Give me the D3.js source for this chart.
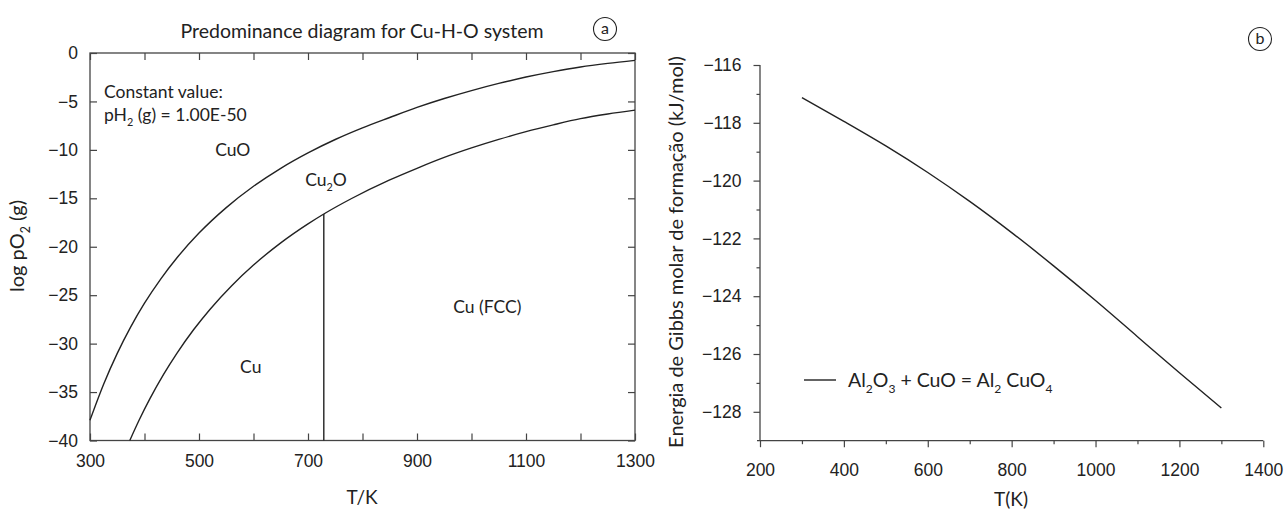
<!DOCTYPE html>
<html>
<head>
<meta charset="utf-8">
<script src="https://cdn.jsdelivr.net/npm/d3@7"></script>
<style>
  html, body { margin: 0; padding: 0; background: #fff; }
  svg { display: block; font-family: Lato, "Open Sans", sans-serif; }
  .tick text { font-size: 17.5px; fill: #222; }
</style>
</head>
<body>
<svg id="chart" width="1287" height="512"></svg>
<script>
// ---------------- DATA ----------------
// Panel a: predominance diagram Cu-H-O (log pO2 vs T)
const upperT      = [300, 325, 350, 375, 400, 430, 460, 500, 550, 600, 650, 700, 750, 800, 850, 900, 950, 1000, 1050, 1100, 1150, 1200, 1250, 1300];
const upperLogPO2 = [-37.9, -34.19, -31.01, -28.25, -25.83, -23.31, -21.11, -18.59, -15.96, -13.76, -11.9, -10.31, -8.93, -7.73, -6.66, -5.62, -4.7, -3.88, -3.14, -2.48, -1.92, -1.44, -1.07, -0.76];
const lowerT      = [373, 390, 410, 435, 460, 490, 520, 560, 600, 650, 700, 729, 780, 850, 900, 950, 1000, 1050, 1100, 1150, 1200, 1250, 1300];
const lowerLogPO2 = [-40, -37.91, -35.68, -33.18, -30.95, -28.57, -26.47, -24.02, -21.89, -19.6, -17.64, -16.62, -15.02, -13.1, -11.9, -10.78, -9.8, -8.92, -8.12, -7.42, -6.78, -6.3, -5.9];
const transitionT = [729, 729];
const transitionLogPO2 = [-40, -16.62];
const xTicksA = [300, 400, 500, 600, 700, 800, 900, 1000, 1100, 1200, 1300];
const xLabelsA = [300, 500, 700, 900, 1100, 1300];
const yTicksA = [0, -5, -10, -15, -20, -25, -30, -35, -40];
const regionNames = ["CuO", "Cu2O", "Cu (FCC)", "Cu"];
const regionT     = [562, 733, 1029, 595];
const regionLog   = [-10.0, -13.1, -26.2, -32.4];

// Panel b: Gibbs energy of formation Al2O3 + CuO = Al2CuO4
const gibbsT = [300, 400, 500, 600, 700, 800, 900, 1000, 1100, 1200, 1300];
const gibbsG = [-117.13, -117.95, -118.8, -119.72, -120.72, -121.8, -122.95, -124.15, -125.4, -126.65, -127.87];
const xTicksB = [200, 400, 600, 800, 1000, 1200, 1400];
const xMinorB = [300, 500, 700, 900, 1100, 1300];
const yTicksB = [-116, -118, -120, -122, -124, -126, -128];
const yMinorB = [-117, -119, -121, -123, -125, -127];

// ---------------- DRAW ----------------
const svg = d3.select("#chart");
const ink = "#222";
const axisInk = "#444";
const minus = v => (v < 0 ? "\u2212" + Math.abs(v) : String(v));

// rich text with subscripts: parts = [[text, isSub], ...]
function richText(g, x, y, parts, size, anchor, transform) {
  const t = g.append("text").attr("x", x).attr("y", y)
    .attr("font-size", size).attr("fill", ink).attr("text-anchor", anchor || "start");
  if (transform) t.attr("transform", transform);
  let prevSub = false;
  const subSize = size * 0.62;
  parts.forEach(([s, sub]) => {
    const ts = t.append("tspan").text(s);
    if (sub) {
      ts.attr("font-size", subSize);
      if (!prevSub) ts.attr("dy", size * 0.3);
    } else if (prevSub) {
      ts.attr("dy", -size * 0.3);
    }
    prevSub = sub;
  });
  return t;
}

function styleAxis(g) {
  g.select(".domain").remove();
  g.selectAll(".tick line").attr("stroke", axisInk).attr("stroke-width", 1.2);
}

// ===== Panel a =====
const xA = d3.scaleLinear().domain([300, 1300]).range([90, 635]);
const yA = d3.scaleLinear().domain([-40, 0]).range([440.5, 53]);
const gA = svg.append("g");

gA.append("rect")
  .attr("x", xA(300)).attr("y", yA(0))
  .attr("width", xA(1300) - xA(300)).attr("height", yA(-40) - yA(0))
  .attr("fill", "none").attr("stroke", axisInk).attr("stroke-width", 1.3);

gA.append("g").attr("transform", `translate(0,${yA(-40)})`)
  .call(d3.axisBottom(xA).tickValues(xTicksA).tickSize(-7).tickPadding(14)
    .tickFormat(d => xLabelsA.includes(d) ? d : ""))
  .call(styleAxis);
gA.append("g").attr("transform", `translate(0,${yA(0)})`)
  .call(d3.axisTop(xA).tickValues(xTicksA).tickSize(-7).tickFormat(""))
  .call(styleAxis);
gA.append("g").attr("transform", `translate(${xA(300)},0)`)
  .call(d3.axisLeft(yA).tickValues(yTicksA).tickSize(-7).tickPadding(12).tickFormat(minus))
  .call(styleAxis);
gA.append("g").attr("transform", `translate(${xA(1300)},0)`)
  .call(d3.axisRight(yA).tickValues(yTicksA).tickSize(-7).tickFormat(""))
  .call(styleAxis);

const lineA = d3.line().x(d => xA(d[0])).y(d => yA(d[1])).curve(d3.curveMonotoneX);
gA.append("path").datum(d3.zip(upperT, upperLogPO2)).attr("d", lineA)
  .attr("fill", "none").attr("stroke", ink).attr("stroke-width", 1.4);
gA.append("path").datum(d3.zip(lowerT, lowerLogPO2)).attr("d", lineA)
  .attr("fill", "none").attr("stroke", ink).attr("stroke-width", 1.4);
gA.append("path").datum(d3.zip(transitionT, transitionLogPO2))
  .attr("d", d3.line().x(d => xA(d[0])).y(d => yA(d[1])))
  .attr("fill", "none").attr("stroke", ink).attr("stroke-width", 1.4);

regionNames.forEach((name, i) => {
  const parts = name === "Cu2O" ? [["Cu", false], ["2", true], ["O", false]] : [[name, false]];
  richText(gA, xA(regionT[i]), yA(regionLog[i]) + 6, parts, 17.5, "middle");
});

gA.append("text").attr("x", 104).attr("y", 98).attr("font-size", 17.5).attr("fill", ink).text("Constant value:");
richText(gA, 104, 121, [["pH", false], ["2", true], [" (g) = 1.00E-50", false]], 17.5, "start");

gA.append("text").attr("x", 362).attr("y", 38).attr("text-anchor", "middle")
  .attr("font-size", 19.5).attr("fill", ink).text("Predominance diagram for Cu-H-O system");

gA.append("circle").attr("cx", 605).attr("cy", 29).attr("r", 11.5).attr("fill", "none").attr("stroke", ink).attr("stroke-width", 1.1);
gA.append("text").attr("x", 605).attr("y", 34).attr("text-anchor", "middle").attr("font-size", 16).attr("fill", ink).text("a");

gA.append("text").attr("x", 362).attr("y", 504).attr("text-anchor", "middle").attr("font-size", 19).attr("fill", ink).text("T/K");
richText(gA, 0, 0, [["log pO", false], ["2", true], [" (g)", false]], 20, "middle", "translate(24,246) rotate(-90)");

// ===== Panel b =====
const xB = d3.scaleLinear().domain([200, 1400]).range([760, 1263.3]);
const yB = d3.scaleLinear().domain([-129, -116]).range([440.7, 65]);
const gB = svg.append("g");

gB.append("line").attr("x1", xB(200)).attr("x2", xB(200)).attr("y1", yB(-116)).attr("y2", yB(-129))
  .attr("stroke", axisInk).attr("stroke-width", 1.3);
gB.append("line").attr("x1", xB(200) - 3).attr("x2", xB(1400)).attr("y1", yB(-129)).attr("y2", yB(-129))
  .attr("stroke", axisInk).attr("stroke-width", 1.3);

gB.append("g").attr("transform", `translate(0,${yB(-129)})`)
  .call(d3.axisBottom(xB).tickValues(xTicksB).tickSize(6.5).tickPadding(16).tickFormat(d => d))
  .call(styleAxis);
gB.append("g").attr("transform", `translate(0,${yB(-129)})`)
  .call(d3.axisBottom(xB).tickValues(xMinorB).tickSize(3.5).tickFormat(""))
  .call(styleAxis);
gB.append("g").attr("transform", `translate(${xB(200)},0)`)
  .call(d3.axisLeft(yB).tickValues(yTicksB).tickSize(6.5).tickPadding(12).tickFormat(minus))
  .call(styleAxis);
gB.append("g").attr("transform", `translate(${xB(200)},0)`)
  .call(d3.axisLeft(yB).tickValues(yMinorB).tickSize(3.5).tickFormat(""))
  .call(styleAxis);

const lineB = d3.line().x(d => xB(d[0])).y(d => yB(d[1])).curve(d3.curveMonotoneX);
gB.append("path").datum(d3.zip(gibbsT, gibbsG)).attr("d", lineB)
  .attr("fill", "none").attr("stroke", ink).attr("stroke-width", 1.4);

gB.append("line").attr("x1", 804).attr("x2", 836).attr("y1", 380).attr("y2", 380)
  .attr("stroke", ink).attr("stroke-width", 1.4);
richText(gB, 848, 387, [["Al", false], ["2", true], ["O", false], ["3", true], [" + CuO = Al", false], ["2", true], [" CuO", false], ["4", true]], 19.5, "start");

gB.append("circle").attr("cx", 1260).attr("cy", 39).attr("r", 11.5).attr("fill", "none").attr("stroke", ink).attr("stroke-width", 1.1);
gB.append("text").attr("x", 1260).attr("y", 44).attr("text-anchor", "middle").attr("font-size", 16).attr("fill", ink).text("b");

gB.append("text").attr("x", 1011).attr("y", 506).attr("text-anchor", "middle").attr("font-size", 19).attr("fill", ink).text("T(K)");
gB.append("text").attr("text-anchor", "middle").attr("font-size", 20).attr("fill", ink)
  .attr("transform", "translate(683,252) rotate(-90)")
  .text("Energia de Gibbs molar de formação (kJ/mol)");
</script>
</body>
</html>
